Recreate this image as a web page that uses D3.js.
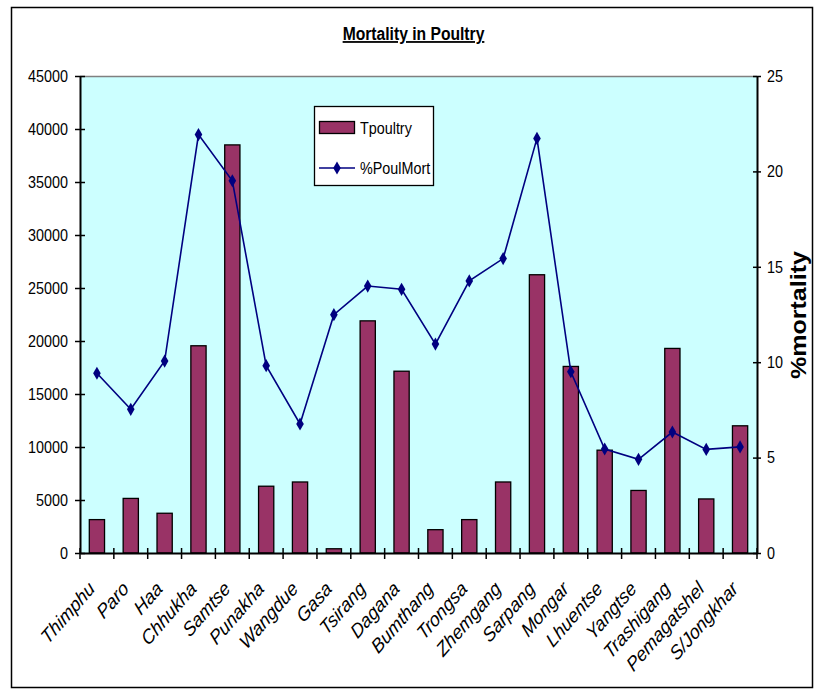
<!DOCTYPE html>
<html>
<head>
<meta charset="utf-8">
<script src="https://cdnjs.cloudflare.com/ajax/libs/d3/7.8.5/d3.min.js"></script>
<style>
  body { margin: 0; background: #fff; }
  svg text { font-family: "Liberation Sans", Arial, sans-serif; fill: #000; }
  .cat text { font-style: italic; }
</style>
</head>
<body>
<div id="viz"></div>
<script>
// districts along the x axis
var districts = ["Thimphu", "Paro", "Haa", "Chhukha", "Samtse", "Punakha", "Wangdue",
  "Gasa", "Tsirang", "Dagana", "Bumthang", "Trongsa", "Zhemgang", "Sarpang", "Mongar",
  "Lhuentse", "Yangtse", "Trashigang", "Pemagatshel", "S/Jongkhar"];

// total poultry (bars, left axis)
var tpoultry = [3150, 5150, 3750, 19550, 38500, 6300, 6700, 400, 21900, 17150,
  2200, 3150, 6700, 26250, 17600, 9700, 5900, 19300, 5100, 12000];

// % poultry mortality (line, right axis)
var poulMort = [9.42, 7.53, 10.06, 21.93, 19.51, 9.82, 6.76, 12.49, 13.99, 13.82,
  10.95, 14.26, 15.43, 21.73, 9.50, 5.45, 4.91, 6.34, 5.43, 5.56];

var leftTicks = [0, 5000, 10000, 15000, 20000, 25000, 30000, 35000, 40000, 45000];
var rightTicks = [0, 5, 10, 15, 20, 25];

// the picture's lettering is narrow, squeeze it sideways
var SQ = 0.87;

var W = 819, H = 690;
var margin = { top: 76, right: 62, bottom: 137, left: 80 };
var width = W - margin.left - margin.right,
  height = H - margin.top - margin.bottom;

var svg = d3.select("#viz").append("svg")
  .attr("width", W).attr("height", H);

// outer chart border
svg.append("rect")
  .attr("x", 11.5).attr("y", 7.5)
  .attr("width", 801).attr("height", 680)
  .attr("fill", "#fff").attr("stroke", "#000").attr("stroke-width", 1.5);

svg.append("text")
  .attr("transform", "translate(413.5,40) scale(" + SQ + ",1)")
  .attr("text-anchor", "middle")
  .style("font-size", "18px").style("font-weight", "bold")
  .style("text-decoration", "underline")
  .text("Mortality in Poultry");

var g = svg.append("g")
  .attr("transform", "translate(" + margin.left + "," + margin.top + ")");

var x = d3.scaleBand().domain(districts).range([0, width]).padding(0);
var yL = d3.scaleLinear().domain([0, 45000]).range([height, 0]);
var yR = d3.scaleLinear().domain([0, 25]).range([height, 0]);

// plot area
g.append("rect")
  .attr("width", width).attr("height", height)
  .attr("fill", "#CCFFFF");
g.append("line")
  .attr("x1", 0).attr("x2", width).attr("y1", 0.5).attr("y2", 0.5)
  .attr("stroke", "#808080").attr("stroke-width", 1.5);

// bars
var bw = x.bandwidth();
g.selectAll("rect.bar")
  .data(tpoultry)
  .enter().append("rect")
  .attr("class", "bar")
  .attr("x", function (d, i) { return x(districts[i]) + bw * 0.275; })
  .attr("y", function (d) { return yL(d); })
  .attr("width", bw * 0.45)
  .attr("height", function (d) { return height - yL(d); })
  .attr("fill", "#993366")
  .attr("stroke", "#000").attr("stroke-width", 1.3);

// line
var line = d3.line()
  .x(function (d, i) { return x(districts[i]) + bw / 2; })
  .y(function (d) { return yR(d); });

g.append("path")
  .datum(poulMort)
  .attr("d", line)
  .attr("fill", "none")
  .attr("stroke", "#000080").attr("stroke-width", 1.6);

g.selectAll("path.marker")
  .data(poulMort)
  .enter().append("path")
  .attr("class", "marker")
  .attr("d", d3.symbol().type(d3.symbolDiamond).size(50))
  .attr("transform", function (d, i) {
    return "translate(" + (x(districts[i]) + bw / 2) + "," + yR(d) + ")";
  })
  .attr("fill", "#000080");

// left axis
var axL = g.append("g")
  .call(d3.axisLeft(yL).tickValues(leftTicks).tickFormat(d3.format("d"))
    .tickSizeInner(5).tickSizeOuter(0));
axL.selectAll(".tick line").attr("x1", 5).attr("x2", -5).attr("stroke-width", 1.5);
axL.select(".domain").attr("stroke-width", 2);
axL.selectAll(".tick text")
  .attr("x", null)
  .attr("transform", "translate(-12,0) scale(" + SQ + ",1)")
  .style("font-size", "16.5px");

// right axis
var axR = g.append("g")
  .attr("transform", "translate(" + width + ",0)")
  .call(d3.axisRight(yR).tickValues(rightTicks).tickSizeInner(4).tickSizeOuter(0));
axR.selectAll(".tick line").attr("x1", -4).attr("stroke-width", 1.5);
axR.select(".domain").attr("stroke-width", 2);
axR.selectAll(".tick text")
  .attr("x", null)
  .attr("transform", "translate(10,0) scale(" + SQ + ",1)")
  .style("font-size", "16.5px");

// bottom axis: labels from the band scale, ticks at the band edges
var axB = g.append("g").attr("class", "cat")
  .attr("transform", "translate(0," + height + ")")
  .call(d3.axisBottom(x).tickSize(0).tickPadding(0));
axB.select(".domain").attr("stroke-width", 2);
axB.selectAll(".tick text")
  .style("font-size", "20px")
  .attr("text-anchor", "end")
  .attr("y", null).attr("dy", null)
  .attr("transform", "translate(-1,37) scale(" + SQ + ",1) rotate(-45)");

var edges = districts.map(function (d) { return x(d); }).concat([width]);
axB.selectAll("line.edge")
  .data(edges)
  .enter().append("line")
  .attr("class", "edge")
  .attr("x1", function (d) { return d; }).attr("x2", function (d) { return d; })
  .attr("y1", -5).attr("y2", 6)
  .attr("stroke", "#000").attr("stroke-width", 1.5);

// right axis title
svg.append("text")
  .attr("transform", "translate(806,315) scale(" + SQ + ",1) rotate(-90)")
  .attr("text-anchor", "middle")
  .style("font-size", "25px").style("font-weight", "bold")
  .text("%mortality");

// legend
var leg = svg.append("g");
leg.append("rect")
  .attr("x", 314.5).attr("y", 106.5).attr("width", 119).attr("height", 79)
  .attr("fill", "#fff").attr("stroke", "#000").attr("stroke-width", 1.3);
leg.append("rect")
  .attr("x", 319.5).attr("y", 121.5).attr("width", 35).attr("height", 12)
  .attr("fill", "#993366").attr("stroke", "#000").attr("stroke-width", 1.3);
leg.append("text")
  .attr("transform", "translate(360,134) scale(" + SQ + ",1)")
  .style("font-size", "16.5px")
  .text("Tpoultry");
leg.append("line")
  .attr("x1", 319).attr("x2", 355).attr("y1", 168).attr("y2", 168)
  .attr("stroke", "#000080").attr("stroke-width", 1.6);
leg.append("path")
  .attr("d", d3.symbol().type(d3.symbolDiamond).size(50))
  .attr("transform", "translate(337,168)")
  .attr("fill", "#000080");
leg.append("text")
  .attr("transform", "translate(360,174) scale(" + SQ + ",1)")
  .style("font-size", "16.5px")
  .text("%PoulMort");
</script>
</body>
</html>
